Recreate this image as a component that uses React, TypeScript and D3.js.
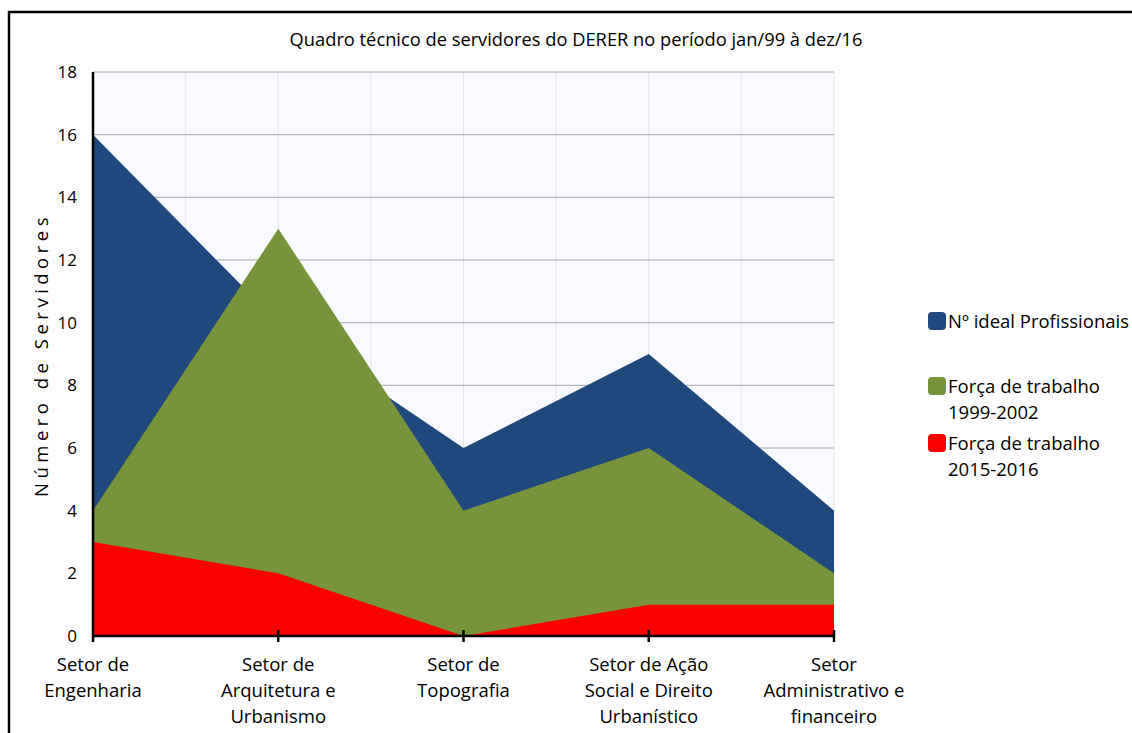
import { useEffect, useRef } from "react";
import * as d3 from "d3";

const W = 1132, H = 733;
const M = { left: 93, right: 834, top: 72, bottom: 636 };

const CATEGORIES = [
  "Setor de Engenharia",
  "Setor de Arquitetura e Urbanismo",
  "Setor de Topografia",
  "Setor de Ação Social e Direito Urbanístico",
  "Setor Administrativo e financeiro",
];
const CAT_LINES = [
  ["Setor de", "Engenharia"],
  ["Setor de", "Arquitetura e", "Urbanismo"],
  ["Setor de", "Topografia"],
  ["Setor de Ação", "Social e Direito", "Urbanístico"],
  ["Setor", "Administrativo e", "financeiro"],
];
const IDEAL = [16, 10, 6, 9, 4];
const FORCA_1999 = [4, 13, 4, 6, 2];
const FORCA_2015 = [3, 2, 0, 1, 1];
const Y_TICKS = [0, 2, 4, 6, 8, 10, 12, 14, 16, 18];

const SERIES = [
  { name: ["Nº ideal Profissionais"], values: IDEAL, color: "#1F497D" },
  { name: ["Força de trabalho", "1999-2002"], values: FORCA_1999, color: "#77933C" },
  { name: ["Força de trabalho", "2015-2016"], values: FORCA_2015, color: "#FF0000" },
];

const FONT = "'Open Sans', Lato, sans-serif";

export default function App() {
  const ref = useRef<SVGSVGElement>(null);

  useEffect(() => {
    const svg = d3.select(ref.current);
    svg.selectAll("*").remove();

    const x = d3.scalePoint<string>().domain(CATEGORIES).range([M.left, M.right]);
    const y = d3.scaleLinear().domain([0, 18]).range([M.bottom, M.top]);

    // outer border
    svg.append("rect").attr("x", 9).attr("y", 12).attr("width", W + 20).attr("height", H + 20)
      .attr("fill", "#fff").attr("stroke", "#000").attr("stroke-width", 2.5);

    // plot background
    svg.append("rect").attr("x", M.left).attr("y", M.top)
      .attr("width", M.right - M.left).attr("height", M.bottom - M.top).attr("fill", "#F8FAFD");

    // vertical minor gridlines (categories + midpoints)
    const xs = CATEGORIES.map(c => x(c)!);
    const vlines: number[] = [];
    xs.forEach((v, i) => {
      if (i > 0) vlines.push((xs[i - 1] + v) / 2, v);
    });
    svg.append("g").selectAll("line").data(vlines).join("line")
      .attr("x1", d => d).attr("x2", d => d).attr("y1", M.top).attr("y2", M.bottom)
      .attr("stroke", "#E6E6E6").attr("stroke-width", 1);

    // horizontal gridlines
    svg.append("g").selectAll("line").data(Y_TICKS.slice(1)).join("line")
      .attr("x1", M.left).attr("x2", M.right).attr("y1", d => y(d)).attr("y2", d => y(d))
      .attr("stroke", "#A6A6A6").attr("stroke-width", 1);

    // areas
    const area = d3.area<number>()
      .x((_, i) => xs[i]).y0(y(0)).y1(d => y(d));
    svg.append("g").selectAll("path").data(SERIES).join("path")
      .attr("d", d => area(d.values)).attr("fill", d => d.color);

    // axes
    svg.append("line").attr("x1", M.left).attr("x2", M.right + 1)
      .attr("y1", M.bottom).attr("y2", M.bottom).attr("stroke", "#000").attr("stroke-width", 2.5);
    svg.append("line").attr("x1", M.left).attr("x2", M.left)
      .attr("y1", M.top).attr("y2", M.bottom + 6).attr("stroke", "#000").attr("stroke-width", 2.5);
    svg.append("g").selectAll("line").data(xs.slice(1)).join("line")
      .attr("x1", d => d).attr("x2", d => d).attr("y1", M.bottom - 6).attr("y2", M.bottom + 6)
      .attr("stroke", "#000").attr("stroke-width", 2.5);

    // y tick labels
    svg.append("g").selectAll("text").data(Y_TICKS).join("text")
      .attr("x", 77).attr("y", d => y(d)).attr("dy", "0.35em").attr("text-anchor", "end")
      .attr("font-family", FONT).attr("font-size", 17).attr("fill", "#000").text(d => d);

    // x labels
    const xl = svg.append("g").selectAll("text").data(CATEGORIES).join("text")
      .attr("text-anchor", "middle").attr("font-family", FONT).attr("font-size", 18.5).attr("fill", "#000");
    xl.each(function (c, i) {
      d3.select(this).selectAll("tspan").data(CAT_LINES[i]).join("tspan")
        .attr("x", x(c)!).attr("y", (_, j) => 671 + j * 26).text(t => t);
    });

    // title
    svg.append("text").attr("x", 576).attr("y", 46).attr("text-anchor", "middle")
      .attr("font-family", FONT).attr("font-size", 18.3).attr("fill", "#000")
      .text("Quadro técnico de servidores do DERER no período jan/99 à dez/16");

    // y label
    svg.append("text").attr("transform", `translate(48,355) rotate(-90)`)
      .attr("text-anchor", "middle").attr("font-family", FONT).attr("font-size", 18.5)
      .attr("letter-spacing", 4.5).attr("fill", "#000").text("Número de Servidores");

    // legend
    const legY = [321, 386, 443];
    const lg = svg.append("g").selectAll("g").data(SERIES).join("g")
      .attr("transform", (_, i) => `translate(928,${legY[i]})`);
    lg.append("rect").attr("x", 0).attr("y", -9).attr("width", 18).attr("height", 18).attr("rx", 4)
      .attr("fill", d => d.color);
    lg.append("text").attr("font-family", FONT).attr("font-size", 18.5).attr("fill", "#000")
      .each(function (d) {
        d3.select(this).selectAll("tspan").data(d.name).join("tspan")
          .attr("x", 20).attr("y", (_, j) => 7 + j * 26).text(t => t);
      });
  }, []);

  return (
    <div style={{ position: "fixed", left: 0, top: 0, width: W, height: H, background: "#fff" }}>
      <svg ref={ref} width={W} height={H} style={{ display: "block" }} />
    </div>
  );
}
